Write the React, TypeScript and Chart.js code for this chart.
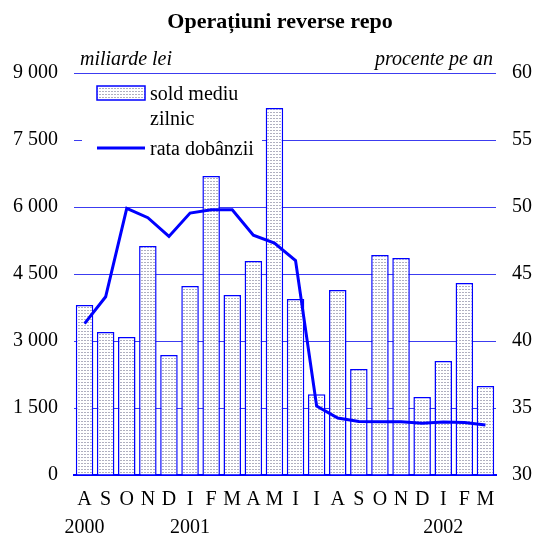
import React, { useEffect, useRef } from 'react';
import { Chart, registerables } from 'chart.js';

Chart.register(...registerables);

const months = ['A', 'S', 'O', 'N', 'D', 'I', 'F', 'M', 'A', 'M', 'I', 'I', 'A', 'S', 'O', 'N', 'D', 'I', 'F', 'M'];
const years = ['2000', '', '', '', '', '2001', '', '', '', '', '', '', '', '', '', '', '', '2002', '', ''];
const soldMediu = [3806, 3202, 3090, 5127, 2687, 4232, 6694, 4030, 4791, 8217, 3940, 1807, 4142, 2373, 4925, 4858, 1746, 2552, 4299, 1993];
const rataDobanzii = [41.3, 43.3, 49.9, 49.2, 47.8, 49.55, 49.8, 49.8, 47.9, 47.3, 46.0, 35.15, 34.25, 34.0, 33.98, 33.98, 33.86, 33.95, 33.92, 33.73];

const title = 'Operațiuni reverse repo';
const leftUnit = 'miliarde lei';
const rightUnit = 'procente pe an';
const legendBar = ['sold mediu', 'zilnic'];
const legendLine = 'rata dobânzii';

const FONT = "'Liberation Serif', 'Times New Roman', serif";
const BLUE = '#0000ff';
const GRID = '#3c3cf0';

function fmtThousands(v: number): string {
  return String(v).replace(/\B(?=(\d{3})+(?!\d))/g, ' ');
}

export default function App() {
  const ref = useRef<HTMLCanvasElement | null>(null);

  useEffect(() => {
    const canvas = ref.current;
    if (!canvas) return;
    const tile = document.createElement('canvas');
    tile.width = 3;
    tile.height = 3;
    const tctx = tile.getContext('2d')!;
    tctx.fillStyle = '#ffffff';
    tctx.fillRect(0, 0, 3, 3);
    tctx.fillStyle = '#b0b0c0';
    tctx.fillRect(0, 1, 2, 1);
    const ctx = canvas.getContext('2d')!;
    const pattern = ctx.createPattern(tile, 'repeat')!;

    const overlay = {
      id: 'overlay',
      afterDraw(chart: any) {
        const c = chart.ctx;
        const area = chart.chartArea;
        c.save();
        // title
        c.fillStyle = '#000';
        c.textBaseline = 'alphabetic';
        c.textAlign = 'center';
        c.font = `bold 22px ${FONT}`;
        c.fillText(title, 280, 28);
        // units
        c.font = `italic 20px ${FONT}`;
        c.textAlign = 'left';
        c.fillText(leftUnit, 80, 65);
        c.textAlign = 'right';
        c.fillText(rightUnit, 493, 65);
        // legend background
        c.fillStyle = '#ffffff';
        c.fillRect(area.left + 8, 80, 180, 82);
        // legend bar swatch
        c.fillStyle = pattern;
        c.fillRect(97, 86, 48, 14);
        c.strokeStyle = BLUE;
        c.lineWidth = 1.5;
        c.strokeRect(97, 86, 48, 14);
        // legend line swatch
        c.beginPath();
        c.moveTo(97, 148);
        c.lineTo(145, 148);
        c.lineWidth = 3;
        c.strokeStyle = BLUE;
        c.stroke();
        // legend text
        c.fillStyle = '#000';
        c.font = `20px ${FONT}`;
        c.textAlign = 'left';
        c.fillText(legendBar[0], 150, 100);
        c.fillText(legendBar[1], 150, 125);
        c.fillText(legendLine, 150, 155);
        c.restore();
      },
    };

    const labels = months.map((m, i) => [m, years[i]]);

    const chart = new Chart(canvas, {
      type: 'bar',
      data: {
        labels,
        datasets: [
          {
            type: 'line',
            label: legendLine,
            data: rataDobanzii,
            yAxisID: 'y2',
            borderColor: BLUE,
            borderWidth: 3,
            pointRadius: 0,
            tension: 0,
            fill: false,
            order: 0,
          } as any,
          {
            type: 'bar',
            label: legendBar.join(' '),
            data: soldMediu,
            yAxisID: 'y',
            backgroundColor: pattern as any,
            borderColor: BLUE,
            borderWidth: 1.5,
            barPercentage: 0.83,
            categoryPercentage: 1,
            order: 1,
          },
        ],
      },
      options: {
        responsive: false,
        animation: false,
        devicePixelRatio: 1,
        layout: { padding: { top: 73, left: 0, right: 0, bottom: 0 } },
        plugins: {
          legend: { display: false },
          title: { display: false },
          tooltip: { enabled: false },
        },
        scales: {
          x: {
            offset: true,
            grid: { display: false, drawTicks: false },
            border: { display: true, color: BLUE, width: 2 },
            ticks: {
              autoSkip: false,
              maxRotation: 0,
              minRotation: 0,
              padding: 11,
              color: '#000',
              font: { family: FONT, size: 20, lineHeight: 1.375 },
            },
            afterFit(scale: any) {
              scale.height = 60;
            },
          },
          y: {
            position: 'left',
            min: 0,
            max: 9000,
            grid: { color: GRID, lineWidth: 1, drawTicks: false },
            border: { display: false },
            ticks: {
              stepSize: 1500,
              padding: 16,
              color: '#000',
              font: { family: FONT, size: 20 },
              callback: (v: any) => fmtThousands(Number(v)),
            },
            afterFit(scale: any) {
              scale.width = 74;
            },
          },
          y2: {
            position: 'right',
            min: 30,
            max: 60,
            grid: { display: false, drawTicks: false },
            border: { display: false },
            ticks: {
              stepSize: 5,
              padding: 16,
              color: '#000',
              font: { family: FONT, size: 20 },
            },
            afterFit(scale: any) {
              scale.width = 51;
            },
          },
        },
      },
      plugins: [overlay],
    });

    return () => chart.destroy();
  }, []);

  return (
    <div style={{ position: 'absolute', left: 0, top: 0, width: 547, height: 535, background: '#fff' }}>
      <canvas ref={ref} width={547} height={535} style={{ width: 547, height: 535, display: 'block' }} />
    </div>
  );
}
